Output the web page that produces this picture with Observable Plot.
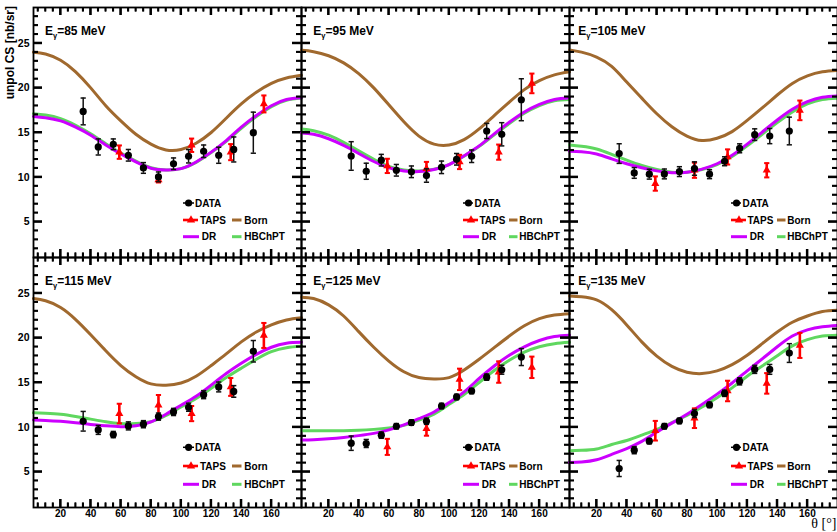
<!DOCTYPE html>
<html><head><meta charset="utf-8">
<script src="https://cdn.jsdelivr.net/npm/d3@7"></script>
<script src="https://cdn.jsdelivr.net/npm/@observablehq/plot@0.6"></script>
<style>
body{margin:0;background:#fff;}
#chart{position:relative;width:837px;height:532px;overflow:hidden;background:#fff;}
#chart svg{position:absolute;}
</style></head><body><div id="chart"></div>
<script>
// ---------- data ----------
const energies = [85, 95, 105, 115, 125, 135];
const thetaGrid = [2,10,20,30,40,50,60,70,80,90,100,110,120,130,140,150,160,170,180];

const born85  = [24.0,23.8,23.1,21.8,20.0,18.0,16.3,14.8,13.7,13.05,13.1,13.8,15.0,16.6,18.2,19.5,20.5,21.1,21.4];
const dr85    = [16.8,16.65,16.3,15.6,14.7,13.6,12.6,11.7,11.0,10.8,10.95,11.7,12.8,14.1,15.6,16.9,18.0,18.7,18.9];
const hb85    = [17.1,16.95,16.55,15.8,14.85,13.75,12.7,11.8,11.05,10.8,10.95,11.65,12.75,14.0,15.45,16.8,17.9,18.6,18.85];

const born95  = [24.2,24.05,23.6,22.8,21.6,20.0,18.1,16.2,14.6,13.7,13.6,14.2,15.4,16.9,18.4,19.8,20.8,21.45,21.8];
const dr95    = [14.95,14.8,14.3,13.55,12.65,11.75,11.05,10.7,10.62,10.85,11.4,12.4,13.5,14.85,16.15,17.3,18.15,18.7,18.9];
const hb95    = [15.4,15.2,14.7,13.9,12.95,12.0,11.2,10.8,10.68,10.88,11.4,12.35,13.45,14.75,16.0,17.15,18.0,18.55,18.7];

const born105 = [24.25,24.0,23.45,22.4,20.65,18.85,17.1,15.65,14.6,14.1,14.35,15.1,16.35,17.75,19.2,20.5,21.35,21.8,21.95];
const dr105   = [12.9,12.85,12.6,12.05,11.5,11.05,10.7,10.5,10.55,10.9,11.5,12.45,13.7,15.05,16.4,17.6,18.45,18.95,19.1];
const hb105   = [13.6,13.45,13.15,12.55,11.9,11.3,10.85,10.55,10.55,10.85,11.4,12.3,13.5,14.8,16.1,17.3,18.2,18.7,18.85];

const born115 = [24.4,24.15,23.4,22.05,20.35,18.55,16.9,15.65,14.85,14.7,14.95,15.7,16.9,18.2,19.55,20.65,21.45,22.0,22.25];
const dr115   = [10.8,10.75,10.65,10.5,10.3,10.15,10.05,10.15,10.6,11.45,12.45,13.45,14.7,16.0,17.15,18.15,18.95,19.4,19.5];
const hb115   = [11.6,11.55,11.45,11.2,10.9,10.6,10.4,10.4,10.6,11.3,12.25,13.2,14.35,15.55,16.6,17.6,18.45,18.9,19.05];

const born125 = [24.55,24.4,23.7,22.45,20.7,18.95,17.4,16.2,15.55,15.4,15.55,16.4,17.6,18.9,20.2,21.35,22.15,22.55,22.7];
const dr125   = [8.55,8.6,8.7,8.85,9.05,9.3,9.7,10.25,10.95,11.7,12.75,13.95,15.45,16.85,18.05,19.0,19.7,20.15,20.3];
const hb125   = [9.6,9.6,9.6,9.6,9.65,9.75,9.9,10.2,10.8,11.45,12.55,13.65,15.0,16.35,17.5,18.4,19.0,19.35,19.5];

const born135 = [24.7,24.6,24.25,23.15,21.45,19.55,17.95,16.8,16.15,16.0,16.3,17.0,18.05,19.35,20.65,21.75,22.45,22.95,23.1];
const dr135   = [6.05,6.1,6.35,6.95,7.6,8.4,9.45,10.45,11.45,12.55,13.7,14.95,16.3,17.65,19.0,20.2,20.9,21.25,21.4];
const hb135   = [7.35,7.4,7.55,8.05,8.5,9.1,9.75,10.5,11.3,12.25,13.3,14.4,15.7,16.85,18.0,19.1,19.8,20.2,20.3];

const dataTheta = [35,45,55,65,75,85,95,105,115,125,135,148];
const data85  = [17.36,13.38,13.68,12.45,11.03,10.03,11.5,12.34,12.9,12.45,13.1,14.98];
const err85   = [1.5,0.9,0.6,0.65,0.6,0.55,0.65,0.75,0.7,0.9,1.4,2.3];
const data95  = [12.37,10.66,11.9,10.77,10.6,10.18,11.1,12.0,12.34,15.17,14.8,18.67];
const err95   = [1.6,0.9,0.65,0.65,0.65,0.75,0.7,0.65,0.7,0.85,1.3,2.35];
const data105 = [12.64,10.47,10.33,10.36,10.62,10.96,10.33,11.78,13.23,14.76,14.6,15.17];
const err105  = [1.1,0.6,0.55,0.55,0.55,0.75,0.5,0.5,0.5,0.65,0.85,1.55];
const data115 = [10.66,9.69,9.17,10.14,10.33,11.18,11.7,12.23,13.64,14.5,14.0,18.5];
const err115  = [1.1,0.5,0.35,0.45,0.4,0.4,0.4,0.45,0.45,0.55,0.65,1.2];
const data125 = [8.2,8.17,9.1,10.1,10.51,10.66,12.37,13.38,14.05,15.6,16.43,17.85];
const err125  = [0.8,0.45,0.35,0.3,0.3,0.35,0.3,0.3,0.3,0.35,0.5,0.95];
const data135 = [5.37,7.42,8.43,10.1,10.7,11.52,12.49,13.79,15.13,16.47,16.47,18.3];
const err135  = [0.9,0.4,0.3,0.3,0.3,0.45,0.3,0.35,0.4,0.45,0.55,1.05];

const tapsTheta = [59,85,107,133,155];
const taps85   = [12.8,9.7,13.57,12.8,18.2];
const tapsErr85  = [0.75,0.3,0.75,0.9,0.95];
const taps95   = [11.26,10.96,11.7,12.8,20.5];
const tapsErr95  = [0.8,0.75,0.8,0.85,1.1];
const taps105  = [9.28,10.77,12.26,10.77,17.48];
const tapsErr105 = [0.8,0.85,0.85,0.8,1.1];
const taps115  = [11.52,12.45,11.52,14.5,20.27];
const tapsErr115 = [1.1,1.15,0.85,1.0,1.4];
const taps125  = [7.79,9.84,15.35,16.17,16.7];
const tapsErr125 = [0.9,0.8,1.2,1.2,1.2];
const taps135  = [9.6,11.0,14.05,14.9,19.15];
const tapsErr135 = [1.1,1.1,1.15,1.15,1.4];

const xMajorTicks = [20,40,60,80,100,120,140,160];
const xMinorTicks = [5,10,15,25,30,35,45,50,55,65,70,75,85,90,95,105,110,115,125,130,135,145,150,155,165,170,175];
const yMajorTicks = [5,10,15,20,25];
const yMinorTicks = [2,3,4,6,7,8,9,11,12,13,14,16,17,18,19,21,22,23,24,26,27,28];
const legendLabels = ["DATA","TAPS","Born","DR","HBChPT"];

// ---------- assemble ----------
const curves = [
  [born85, dr85, hb85], [born95, dr95, hb95], [born105, dr105, hb105],
  [born115, dr115, hb115], [born125, dr125, hb125], [born135, dr135, hb135]
];
const dataSets = [[data85,err85],[data95,err95],[data105,err105],[data115,err115],[data125,err125],[data135,err135]];
const tapsSets = [[taps85,tapsErr85],[taps95,tapsErr95],[taps105,tapsErr105],[taps115,tapsErr115],[taps125,tapsErr125],[taps135,tapsErr135]];

const BROWN = "#a0692e", MAGENTA = "#cc00ff", GREEN = "#5fd75f", RED = "#ff0000";
const FONT = "'Liberation Sans', Arial, Helvetica, sans-serif";
const W = 268, H = 250;
const colX = [33, 301, 569], rowY = [7, 257];
const capSym = {draw(ctx, size){ const w = 2.6; ctx.moveTo(-w, 0); ctx.lineTo(w, 0); }};

const root = document.getElementById("chart");

energies.forEach((E, i) => {
  const col = i % 3, row = Math.floor(i / 3);
  const ml = col === 0 ? 33 : 0, mb = row === 1 ? 25 : 0;
  const [born, dr, hb] = curves[i];
  const toRows = arr => thetaGrid.map((t, k) => ({theta: t, v: arr[k]}));
  const dRows = dataTheta.map((t, k) => ({theta: t, v: dataSets[i][0][k], e: dataSets[i][1][k]}));
  const tRows = tapsTheta.map((t, k) => ({theta: t, v: tapsSets[i][0][k], e: tapsSets[i][1][k]}));

  const marks = [
    Plot.line(toRows(born), {x: "theta", y: "v", stroke: BROWN, strokeWidth: 3, curve: "natural"}),
    Plot.line(toRows(hb), {x: "theta", y: "v", stroke: GREEN, strokeWidth: 3, curve: "natural"}),
    Plot.line(toRows(dr), {x: "theta", y: "v", stroke: MAGENTA, strokeWidth: 3, curve: "natural"}),
    // TAPS
    Plot.ruleX(tRows, {x: "theta", y1: d => d.v - d.e, y2: d => d.v + d.e, stroke: RED, strokeWidth: 2.6}),
    Plot.dot(tRows, {x: "theta", y: d => d.v - d.e, symbol: capSym, stroke: RED, strokeWidth: 2, r: 3}),
    Plot.dot(tRows, {x: "theta", y: d => d.v + d.e, symbol: capSym, stroke: RED, strokeWidth: 2, r: 3}),
    Plot.dot(tRows, {x: "theta", y: "v", symbol: "triangle", fill: RED, r: 3}),
    // DATA
    Plot.ruleX(dRows, {x: "theta", y1: d => d.v - d.e, y2: d => d.v + d.e, stroke: "#111", strokeWidth: 1.5}),
    Plot.dot(dRows, {x: "theta", y: d => d.v - d.e, symbol: capSym, stroke: "#111", strokeWidth: 1.5, r: 3}),
    Plot.dot(dRows, {x: "theta", y: d => d.v + d.e, symbol: capSym, stroke: "#111", strokeWidth: 1.5, r: 3}),
    Plot.dot(dRows, {x: "theta", y: "v", fill: "#000", r: 3.6}),
    Plot.frame({stroke: "#000", strokeWidth: 1.8}),
    // inward ticks on all four sides
    Plot.ruleX(xMajorTicks, {x: d => d, insetTop: H - 8, stroke: "#000", strokeWidth: 2}),
    Plot.ruleX(xMajorTicks, {x: d => d, insetBottom: H - 8, stroke: "#000", strokeWidth: 2}),
    Plot.ruleX(xMinorTicks, {x: d => d, insetTop: H - 4.5, stroke: "#000", strokeWidth: 1.6}),
    Plot.ruleX(xMinorTicks, {x: d => d, insetBottom: H - 4.5, stroke: "#000", strokeWidth: 1.6}),
    Plot.ruleY(yMajorTicks, {y: d => d, insetRight: W - 9, stroke: "#000", strokeWidth: 2}),
    Plot.ruleY(yMajorTicks, {y: d => d, insetLeft: W - 9, stroke: "#000", strokeWidth: 2}),
    Plot.ruleY(yMinorTicks, {y: d => d, insetRight: W - 5, stroke: "#000", strokeWidth: 1.6}),
    Plot.ruleY(yMinorTicks, {y: d => d, insetLeft: W - 5, stroke: "#000", strokeWidth: 1.6})
  ];
  if (row === 1) marks.push(Plot.axisX(xMajorTicks, {anchor: "bottom", tickSize: 0, tickPadding: 2, label: null, fontSize: 10, fontWeight: "bold"}));
  if (col === 0) marks.push(Plot.axisY(yMajorTicks, {anchor: "left", tickSize: 0, tickPadding: 4, label: null, fontSize: 10.5, fontWeight: "bold"}));

  const svg = Plot.plot({
    width: ml + W, height: H + mb,
    marginLeft: ml, marginRight: 0, marginTop: 0, marginBottom: mb,
    x: {domain: [2, 180], axis: row === 1 ? undefined : null},
    y: {domain: [1, 29], axis: col === 0 ? undefined : null},
    style: {background: "transparent", overflow: "visible", fontFamily: FONT, fontWeight: "bold", fontSize: "10px", color: "#000"},
    marks
  });
  svg.style.left = (colX[col] - ml) + "px";
  svg.style.top = rowY[row] + "px";
  root.appendChild(svg);

  const g = d3.select(svg).append("g").attr("font-family", FONT).attr("font-weight", "bold").attr("text-anchor", "start");

  // second pass of the inward ticks, positioned through the plot's own scales
  const sx = svg.scale("x"), sy = svg.scale("y");
  const tick = (x1, y1, x2, y2, w) => g.append("line").attr("x1", x1).attr("y1", y1).attr("x2", x2).attr("y2", y2)
    .attr("stroke", "#000").attr("stroke-width", w);
  [[xMajorTicks, 8, 2], [xMinorTicks, 4.5, 1.6]].forEach(([list, len, w]) => list.forEach(t => {
    const px = sx.apply(t);
    tick(px, H, px, H - len, w); tick(px, 0, px, len, w);
  }));
  [[yMajorTicks, 9, 2], [yMinorTicks, 5, 1.6]].forEach(([list, len, w]) => list.forEach(t => {
    const py = sy.apply(t);
    tick(ml, py, ml + len, py, w); tick(ml + W, py, ml + W - len, py, w);
  }));

  // energy label
  const ex = ml + [12, 12.3, 9.3][col];
  const lab = g.append("text").attr("x", ex).attr("y", 27.5).attr("font-size", 12).attr("fill", "#000");
  lab.append("tspan").text("E");
  lab.append("tspan").attr("dy", 3).attr("font-size", 7.5).text("γ");
  lab.append("tspan").attr("dy", -3).text("=" + E + " MeV");

  // legend
  const L = col === 0
    ? {ln: [150, 161], mk: 155.6, tx: 162, tpLn: [150, 165], tpMk: 158, tpTx: 167, drLn: [150, 166], drTx: 168.7, ln2: [199, 208.5], tx2: 211.3}
    : {ln: [162, 172], mk: 167.5, tx: 173.5, tpLn: [162, 177], tpMk: 170, tpTx: 178.5, drLn: [162, 178], drTx: 180.7, ln2: [208, 216.5], tx2: 218.2};
  const ry = row === 0 ? [196, 213, 229.7] : [190.3, 209, 227.3];
  const seg = (x1, x2, y, c, w) => g.append("line").attr("x1", ml + x1).attr("x2", ml + x2).attr("y1", y).attr("y2", y).attr("stroke", c).attr("stroke-width", w);
  const txt = (x, y, s) => g.append("text").attr("x", ml + x).attr("y", y + 3.6).attr("font-size", 10).attr("fill", "#000").text(s);
  seg(L.ln[0], L.ln[1], ry[0], "#000", 1.5);
  g.append("circle").attr("cx", ml + L.mk).attr("cy", ry[0]).attr("r", 3.6).attr("fill", "#000");
  txt(L.tx, ry[0], legendLabels[0]);
  seg(L.tpLn[0], L.tpLn[1], ry[1], RED, 2.6);
  g.append("path").attr("d", d3.symbol(d3.symbolTriangle, 30)()).attr("transform", `translate(${ml + L.tpMk},${ry[1]})`).attr("fill", RED);
  txt(L.tpTx, ry[1], legendLabels[1]);
  seg(L.ln2[0], L.ln2[1], ry[1], BROWN, 3);
  txt(L.tx2, ry[1], legendLabels[2]);
  seg(L.drLn[0], L.drLn[1], ry[2], MAGENTA, 3);
  txt(L.drTx, ry[2], legendLabels[3]);
  seg(L.ln2[0], L.ln2[1], ry[2], GREEN, 3);
  txt(L.tx2, ry[2], legendLabels[4]);

  if (i === 0) {
    g.append("text").attr("transform", "translate(13.5,-1) rotate(-90)").attr("text-anchor", "end")
      .attr("font-size", 12).attr("fill", "#000").text("unpol CS [nb/sr]");
  }
  if (i === 5) {
    g.append("text").attr("x", W - 0.5).attr("y", 271).attr("text-anchor", "end")
      .attr("font-family", "'Liberation Serif', 'DejaVu Serif', serif").attr("font-weight", "normal")
      .attr("font-size", 14).attr("fill", "#000").text("θ [°]");
  }
});
</script></body></html>
